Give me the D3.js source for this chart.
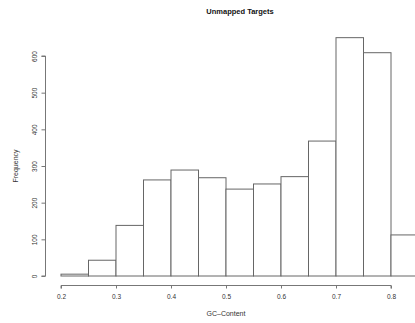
<!DOCTYPE html>
<html><head><meta charset="utf-8">
<script src="https://cdn.jsdelivr.net/npm/d3@7"></script>
<style>body{margin:0;background:#fff;}svg{display:block;font-family:"Liberation Sans",Arial,sans-serif;}</style>
</head><body><svg id="c" width="415" height="323"></svg>
<script>
const binStarts = [0.20,0.25,0.30,0.35,0.40,0.45,0.50,0.55,0.60,0.65,0.70,0.75,0.80];
const binWidth = 0.05;
const counts = [5,43,138,262,289,268,237,251,271,368,650,609,112];
const xTicks = [0.2,0.3,0.4,0.5,0.6,0.7,0.8];
const yTicks = [0,100,200,300,400,500,600];
const title = "Unmapped Targets";
const xLabel = "GC\u2013Content";
const yLabel = "Frequency";

const svg = d3.select("#c");
const x = d3.scaleLinear().domain([0.2,0.8]).range([61,391]);
const y = d3.scaleLinear().domain([0,600]).range([276,56]);

svg.append("g").selectAll("rect").data(binStarts).join("rect")
  .attr("x", d=>x(d)).attr("width", (d)=>x(d+binWidth)-x(d))
  .attr("y", (d,i)=>y(counts[i])).attr("height", (d,i)=>y(0)-y(counts[i]))
  .attr("fill","#fff").attr("stroke","#666").attr("stroke-width",1);

const xa = svg.append("g").attr("transform","translate(0,285.5)")
  .call(d3.axisBottom(x).tickValues(xTicks).tickSize(3).tickPadding(6).tickFormat(d3.format(".1f")));
const ya = svg.append("g").attr("transform","translate(45.5,0)")
  .call(d3.axisLeft(y).tickValues(yTicks).tickSize(4).tickPadding(4));
[xa,ya].forEach(a=>{a.selectAll("path,line").attr("stroke","#777");a.selectAll("text").attr("fill","#333").style("font-size","6.5px");});
ya.selectAll("text").attr("x",0).attr("y",0).attr("dy",0).attr("text-anchor","middle")
  .attr("transform","translate(-9,0) rotate(-90)");
ya.select(".domain").attr("d",`M-4,${y(0)}H0V${y(600)}H-4`);
xa.select(".domain").attr("d",`M${x(0.2)},3V0H${x(0.8)}V3`);

svg.append("text").attr("x",240).attr("y",14).attr("text-anchor","middle")
  .style("font-size","7.5px").style("font-weight","bold").attr("fill","#111").text(title);
svg.append("text").attr("x",226).attr("y",316).attr("text-anchor","middle")
  .style("font-size","7px").attr("fill","#333").text(xLabel);
svg.append("text").attr("transform","translate(18,166) rotate(-90)").attr("text-anchor","middle")
  .style("font-size","7px").attr("fill","#333").text(yLabel);
</script></body></html>
